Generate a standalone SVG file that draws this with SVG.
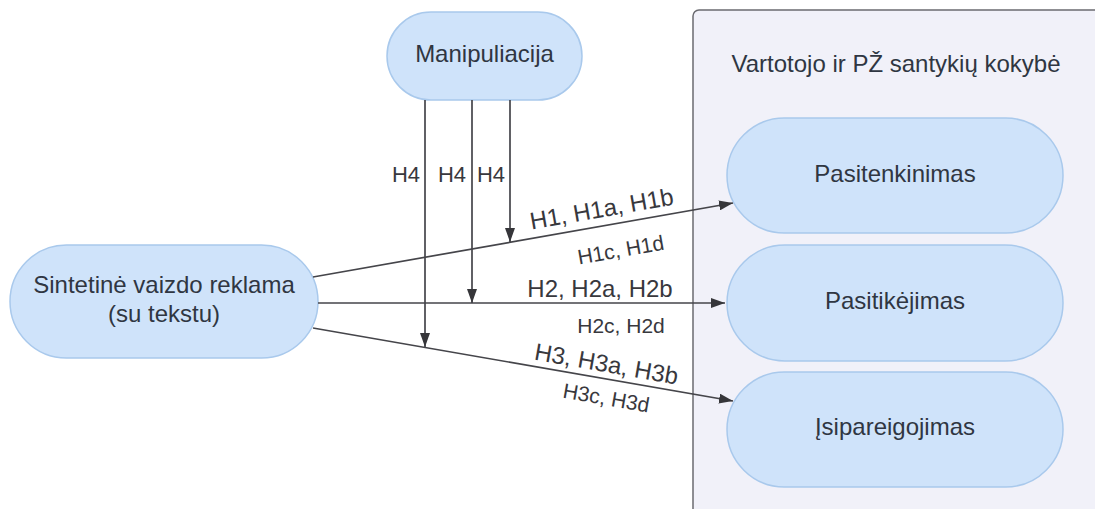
<svg xmlns="http://www.w3.org/2000/svg" width="1095" height="509" viewBox="0 0 1095 509">
  <style>
    .node { fill: #cfe3fa; stroke: #a9c9ec; stroke-width: 1.5; }
    .lbl { font-family: "Liberation Sans", Arial, sans-serif; fill: #2f3642; text-anchor: middle; }
    .big { font-size: 24px; }
    .edge { stroke: #45454a; stroke-width: 1.7; fill: none; marker-end: url(#arrow); }
    .elbl { font-family: "Liberation Sans", Arial, sans-serif; fill: #38383d; text-anchor: middle; }
  </style>
  <defs>
    <marker id="arrow" viewBox="0 0 14 10" refX="14" refY="5" markerWidth="14" markerHeight="10" markerUnits="userSpaceOnUse" orient="auto">
      <path d="M0,0 L14,5 L0,10 Z" fill="#36363a"/>
    </marker>
  </defs>

  <rect width="1095" height="509" fill="#ffffff"/>

  <!-- container for relationship quality -->
  <g id="container">
    <rect x="693" y="10" width="420" height="520" rx="6" fill="#f1f1f9" stroke="#6b6b70" stroke-width="1.5"/>
    <text class="lbl big" x="896" y="72">Vartotojo ir PŽ santykių kokybė</text>
  </g>

  <g id="manipuliacija">
    <rect class="node" x="387" y="12" width="195" height="88" rx="44"/>
    <text class="lbl big" x="484.5" y="62">Manipuliacija</text>
  </g>

  <g id="sintetine">
    <rect class="node" x="10" y="245" width="308" height="113" rx="56.5"/>
    <text class="lbl big" x="164" y="293">Sintetinė vaizdo reklama</text>
    <text class="lbl big" x="164" y="322">(su tekstu)</text>
  </g>

  <g id="pasitenkinimas">
    <rect class="node" x="727" y="118" width="336" height="115" rx="57.5"/>
    <text class="lbl big" x="895" y="182">Pasitenkinimas</text>
  </g>

  <g id="pasitikejimas">
    <rect class="node" x="727" y="245" width="336" height="116" rx="58"/>
    <text class="lbl big" x="895" y="309">Pasitikėjimas</text>
  </g>

  <g id="isipareigojimas">
    <rect class="node" x="727" y="372" width="336" height="115" rx="57.5"/>
    <text class="lbl big" x="895" y="435">Įsipareigojimas</text>
  </g>

  <g id="connectors">
    <path class="edge" d="M313,277 L733,203"/>
    <path class="edge" d="M318,303 L725,303"/>
    <path class="edge" d="M313,328 L733,401"/>
    <path class="edge" d="M510,100 L510,242"/>
    <path class="edge" d="M472,100 L472,303"/>
    <path class="edge" d="M425,100 L425,347"/>

    <text class="elbl" style="font-size:22px;text-anchor:end" x="420" y="182">H4</text>
    <text class="elbl" style="font-size:22px;text-anchor:end" x="466" y="182">H4</text>
    <text class="elbl" style="font-size:22px;text-anchor:end" x="505" y="182">H4</text>

    <text class="elbl" style="font-size:24px" x="603" y="217" transform="rotate(-10 603 217)">H1, H1a, H1b</text>
    <text class="elbl" style="font-size:21px" x="622" y="257" transform="rotate(-10 622 257)">H1c, H1d</text>
    <text class="elbl" style="font-size:24px" x="600" y="297">H2, H2a, H2b</text>
    <text class="elbl" style="font-size:21px" x="621" y="333">H2c, H2d</text>
    <text class="elbl" style="font-size:24px" x="605" y="372" transform="rotate(10 605 372)">H3, H3a, H3b</text>
    <text class="elbl" style="font-size:21px" x="605" y="405" transform="rotate(10 605 405)">H3c, H3d</text>
  </g>
</svg>
